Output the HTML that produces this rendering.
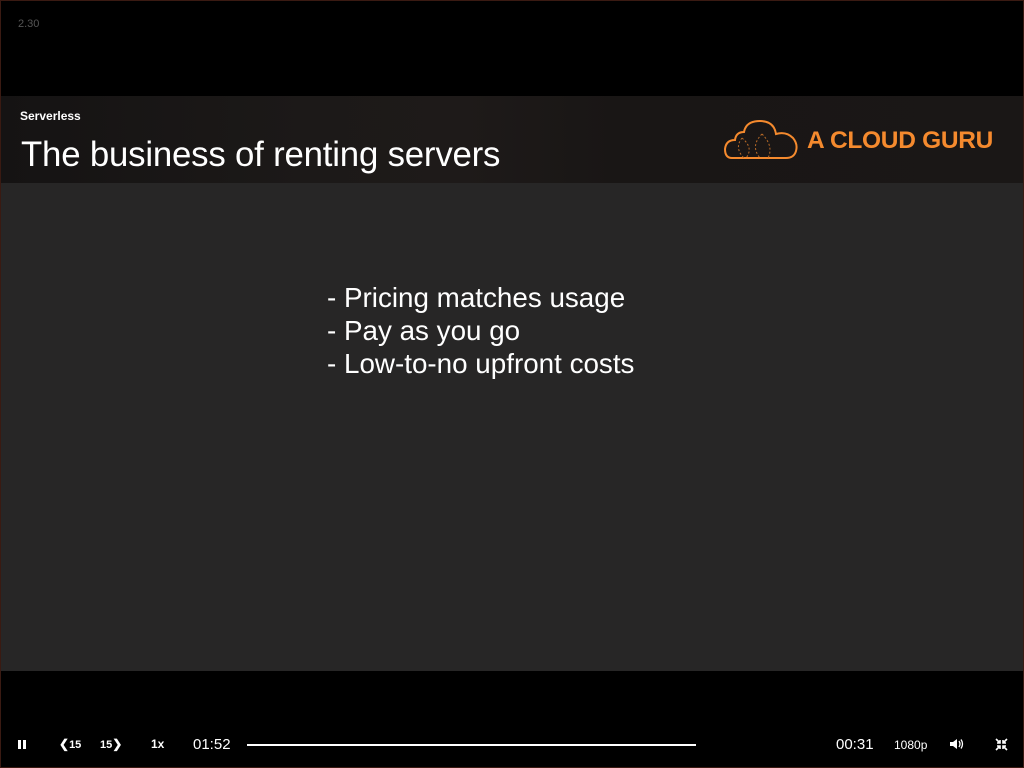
<!DOCTYPE html>
<html><head><meta charset="utf-8">
<style>
*{margin:0;padding:0;box-sizing:border-box}
body{width:1024px;height:768px;background:#000;position:relative;overflow:hidden;font-family:"Liberation Sans",Arial,sans-serif;color:#fff}
.frame{position:absolute;inset:0;border:1px solid #3a1a12;pointer-events:none;z-index:10}
.ver{position:absolute;left:18px;top:18px;font-size:11px;color:#555}
.hdr{position:absolute;left:1px;top:96px;width:1022px;height:87px;background:linear-gradient(90deg,#151313 0%,#1c1918 30%,#1e1a19 45%,#191615 60%,#1a1716 100%)}
.sub{position:absolute;left:20px;top:109px;font-size:12px;font-weight:bold}
.title{position:absolute;left:21px;top:135px;font-size:34.8px;letter-spacing:-0.2px;white-space:nowrap}
.brand{position:absolute;left:807px;top:127px;font-size:24.5px;font-weight:bold;color:#f58a2e;letter-spacing:-0.3px;white-space:nowrap}
.main{position:absolute;left:1px;top:183px;width:1022px;height:488px;background:#272626}
.bul{position:absolute;left:327px;top:281px;font-size:27.8px;line-height:33px;color:#fff;white-space:nowrap}
.ctl{position:absolute;top:737px;font-size:12px;font-weight:bold}
.bar{position:absolute;left:247px;top:744px;width:449px;height:2px;background:#fff}
</style></head><body>
<div class="frame"></div>
<div class="ver">2.30</div>
<div class="hdr"></div>
<div class="sub">Serverless</div>
<div class="title">The business of renting servers</div>
<svg style="position:absolute;left:724px;top:118px" width="76" height="44" viewBox="0 0 76 44">
<path d="M8 40 Q1 40 1 31 Q2 22 11 22 Q12 14 20 14 Q22 3 36 3 Q50 3 52 16 Q62 13 69 20 Q74 26 72 33 Q70 40 62 40 Z" fill="none" stroke="#f58a2e" stroke-width="2"/>
<path d="M18 20 Q10 30 20 40 M18 20 Q30 30 22 40 M38 16 Q26 28 36 40 M38 16 Q50 28 44 40" fill="none" stroke="#b86a28" stroke-width="1" stroke-dasharray="2 2"/>
</svg>
<div class="brand">A CLOUD GURU</div>
<svg style="position:absolute;left:835px;top:190px" width="10" height="12" viewBox="0 0 10 12"><path d="M1 1 L1 10 L3.5 7.5 L5.5 11 L7 10 L5 7 L8 7 Z" fill="#000" stroke="#fff" stroke-width="0.8"/></svg>
<div class="main"></div>
<div class="bul">- Pricing matches usage<br>- Pay as you go<br>- Low-to-no upfront costs</div>
<div style="position:absolute;left:18px;top:740px;width:3px;height:9px;background:#fff"></div>
<div style="position:absolute;left:23px;top:740px;width:3px;height:9px;background:#fff"></div>
<div class="ctl" style="left:59px">&#10094;<span style="font-size:11px">15</span></div>
<div class="ctl" style="left:100px"><span style="font-size:11px">15</span>&#10095;</div>
<div class="ctl" style="left:151px">1x</div>
<div class="ctl" style="left:193px;top:736px;font-size:15px;font-weight:normal">01:52</div>
<div class="bar"></div>
<div class="ctl" style="left:836px;top:736px;font-size:15px;font-weight:normal">00:31</div>
<div class="ctl" style="left:894px;top:738px;font-size:12px;font-weight:normal">1080p</div>
<svg style="position:absolute;left:949px;top:738px" width="16" height="12" viewBox="0 0 16 12"><path d="M1 4 H4 L8 1 V11 L4 8 H1 Z" fill="#fff"/><path d="M10 3 Q12 6 10 9 M12 1.5 Q15 6 12 10.5" stroke="#fff" stroke-width="1.3" fill="none"/></svg>
<svg style="position:absolute;left:995px;top:738px" width="13" height="13" viewBox="0 0 13 13"><path d="M1 1 L5 5 M5 2 V5 H2 M12 1 L8 5 M8 2 V5 H11 M1 12 L5 8 M5 11 V8 H2 M12 12 L8 8 M8 11 V8 H11" stroke="#fff" stroke-width="1.6" fill="none"/></svg>
</body></html>
